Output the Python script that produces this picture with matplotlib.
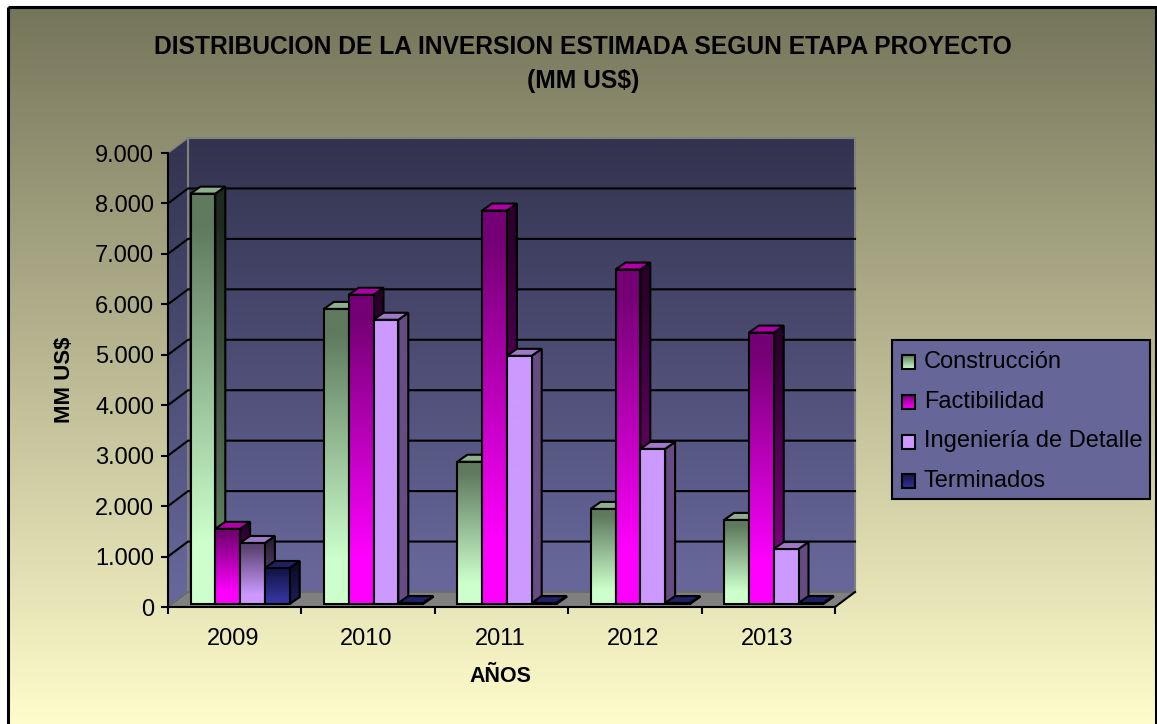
import numpy as np
import matplotlib
matplotlib.use("Agg")
import matplotlib.pyplot as plt
from matplotlib.colors import to_rgb
from matplotlib.patches import Polygon, Rectangle

plt.rcParams['font.family'] = ['Liberation Sans', 'DejaVu Sans']

years = ['2009', '2010', '2011', '2012', '2013']
series_names = ['Construcción', 'Factibilidad', 'Ingeniería de Detalle', 'Terminados']
construccion = [8135, 5850, 2820, 1885, 1667]
factibilidad = [1490, 6130, 7800, 6630, 5380]
ingenieria = [1210, 5635, 4920, 3075, 1090]
terminados = [714, 20, 20, 20, 20]
y_ticks = [0, 1000, 2000, 3000, 4000, 5000, 6000, 7000, 8000, 9000]
y_labels = ['0', '1.000', '2.000', '3.000', '4.000', '5.000', '6.000', '7.000', '8.000', '9.000']

W, H = 1157, 724
# front plane of the 3d box, in pixels
LEFT, RIGHT, TOP, BOTTOM = 168, 835, 153, 607
px_x = 5 / (RIGHT - LEFT)
px_y = 9000 / (BOTTOM - TOP)
WALL_DX, WALL_DY = 20 * px_x, 15 * px_y
BAR_DX, BAR_DY = 10 * px_x, 7 * px_y
BAR_W = 24.8 * px_x
BAR_START = 22.5 * px_x
BAR_BASE = 3 * px_y

# front top, front bottom, side top, side bottom, top face
colors = [
    ('#5f7a5f', '#ccffcc', '#1f2a1f', '#5f7f5f', '#8fb08f'),
    ('#750075', '#ff00ff', '#2a002a', '#800080', '#b000a8'),
    ('#5a4470', '#cc99ff', '#2a2035', '#664c80', '#9f78c8'),
    ('#14144a', '#333399', '#0a0a28', '#1a1a50', '#1f1f66'),
]
flat = '#cc99ff', '#664c80'


def grad_img(ax, verts, top, bottom, z, stops=(0.08, 0.85), edge='black', lw=1.5):
    verts = np.array(verts)
    t = np.linspace(0, 1, 128)
    f = np.clip((t - stops[0]) / (stops[1] - stops[0]), 0, 1)
    c0, c1 = np.array(to_rgb(top)), np.array(to_rgb(bottom))
    img = (c0[None, :] * (1 - f[:, None]) + c1[None, :] * f[:, None])[:, None, :]
    poly = Polygon(verts, closed=True, fc='none', ec=edge, lw=lw, zorder=z + 0.1,
                   clip_on=False, joinstyle='miter')
    ax.add_patch(poly)
    ylo, yhi = verts[:, 1].min(), verts[:, 1].max()
    if ax.yaxis_inverted():
        ylo, yhi = yhi, ylo
    im = ax.imshow(img, extent=[verts[:, 0].min(), verts[:, 0].max(), ylo, yhi],
                   aspect='auto', origin='upper', zorder=z, interpolation='bilinear')
    im.set_clip_path(Polygon(verts, closed=True, transform=ax.transData))
    # images get cut to the axes box unless told otherwise
    im.set_clip_box(ax.figure.bbox)
    return im


fig = plt.figure(figsize=(W / 100, H / 100), dpi=100, facecolor='white')

# page: background gradient, frame, titles, legend, all in pixels
page = fig.add_axes([0, 0, 1, 1])
page.set_xlim(0, W)
page.set_ylim(H, 0)
page.axis('off')
page.set_autoscale_on(False)
grad_img(page, [(8, 7), (1155, 7), (1155, 724), (8, 724)], '#75755b', '#fffccb', 0,
         stops=(0, 1), edge='none', lw=0)
page.plot([8, 8], [724, 7], color='black', lw=2.2, solid_capstyle='butt', zorder=2)
page.plot([8, 1155.5, 1155.5], [7, 7, 724], color='black', lw=2.2, solid_capstyle='butt', zorder=2)

page.text(583, 47, 'DISTRIBUCION DE LA INVERSION ESTIMADA SEGUN ETAPA PROYECTO',
          ha='center', va='center', fontsize=17.7, fontweight='bold', color='black')
page.text(583, 81, '(MM US$)', ha='center', va='center', fontsize=17.7, fontweight='bold', color='black')
page.text(64, 379.5, 'MM US$', rotation=90, ha='center', va='center', fontsize=16, fontweight='bold')
page.text(500, 677, 'AÑOS', ha='center', va='center', fontsize=15.5, fontweight='bold')

ax = fig.add_axes([LEFT / W, 1 - BOTTOM / H, (RIGHT - LEFT) / W, (BOTTOM - TOP) / H])
ax.patch.set_alpha(0)
ax.set_xlim(0, 5)
ax.set_ylim(0, 9000)
ax.set_autoscale_on(False)

# walls and floor
grad_img(ax, [(WALL_DX, WALL_DY), (5 + WALL_DX, WALL_DY), (5 + WALL_DX, 9000 + WALL_DY), (WALL_DX, 9000 + WALL_DY)],
         '#33334f', '#666699', 1, stops=(0.0, 0.95), edge='#808080', lw=1.5)
grad_img(ax, [(0, 0), (WALL_DX, WALL_DY), (WALL_DX, 9000 + WALL_DY), (0, 9000)],
         '#33334f', '#666699', 1, stops=(0.0, 0.95), edge='#808080', lw=1)
ax.add_patch(Polygon([(0, 0), (5, 0), (5 + WALL_DX, WALL_DY), (WALL_DX, WALL_DY)], closed=True,
                     fc='#808080', ec='#666666', lw=1, zorder=2, clip_on=False))

for v in y_ticks[1:-1]:
    ax.plot([0, WALL_DX, 5 + WALL_DX], [v, v + WALL_DY, v + WALL_DY], color='black', lw=1.5,
            zorder=3, clip_on=False, solid_joinstyle='miter')

# bars
all_series = [construccion, factibilidad, ingenieria, terminados]
z = 10
for i in range(len(years)):
    for s, vals in enumerate(all_series):
        x0 = i + BAR_START + s * BAR_W
        x1 = x0 + BAR_W
        y0 = BAR_BASE
        y1 = BAR_BASE + vals[i]
        ftop, fbot, stop, sbot, ttop = colors[s]
        if s == 2 and i > 0:
            ftop, fbot = flat[0], flat[0]
            stop, sbot = flat[1], flat[1]
        grad_img(ax, [(x1, y0), (x1 + BAR_DX, y0 + BAR_DY), (x1 + BAR_DX, y1 + BAR_DY), (x1, y1)],
                 stop, sbot, z)
        grad_img(ax, [(x0, y0), (x1, y0), (x1, y1), (x0, y1)], ftop, fbot, z + 1)
        ax.add_patch(Polygon([(x0, y1), (x1, y1), (x1 + BAR_DX, y1 + BAR_DY), (x0 + BAR_DX, y1 + BAR_DY)],
                             closed=True, fc=ttop, ec='black', lw=1.5, zorder=z + 2, clip_on=False,
                             joinstyle='miter'))
        z += 3

# axes, ticks
for sp in ['top', 'right']:
    ax.spines[sp].set_visible(False)
for sp in ['left', 'bottom']:
    ax.spines[sp].set_linewidth(1.5)
    ax.spines[sp].set_zorder(200)
ax.plot([5, 5 + WALL_DX], [0, WALL_DY], color='black', lw=1.5, zorder=200, clip_on=False)
ax.set_yticks(y_ticks)
ax.set_yticklabels(y_labels, fontsize=17)
ax.set_xticks(range(6))
ax.set_xticklabels([])
ax.set_xticks(np.arange(5) + 0.5 - 1.5 * px_x, minor=True)
ax.set_xticklabels(years, minor=True, fontsize=17)
ax.tick_params(axis='y', length=5, width=1.5, pad=5)
ax.tick_params(axis='x', which='major', length=5, width=1.5)
ax.tick_params(axis='x', which='minor', length=0, pad=15)

# legend
page.add_patch(Rectangle((892, 340), 258, 159, fc='#666699', ec='black', lw=1.5, zorder=3))
legend_y = [362, 402, 441.5, 481]
for s, name in enumerate(series_names):
    y = legend_y[s]
    top = colors[s][0] if s != 2 else colors[s][1]
    grad_img(page, [(902, y - 7), (915, y - 7), (915, y + 7), (902, y + 7)],
             top, colors[s][1], 4, stops=(0.0, 1.0))
    page.text(924, y, name, ha='left', va='center', fontsize=17, color='black', zorder=5)

fig.savefig('out.png', dpi=100)
